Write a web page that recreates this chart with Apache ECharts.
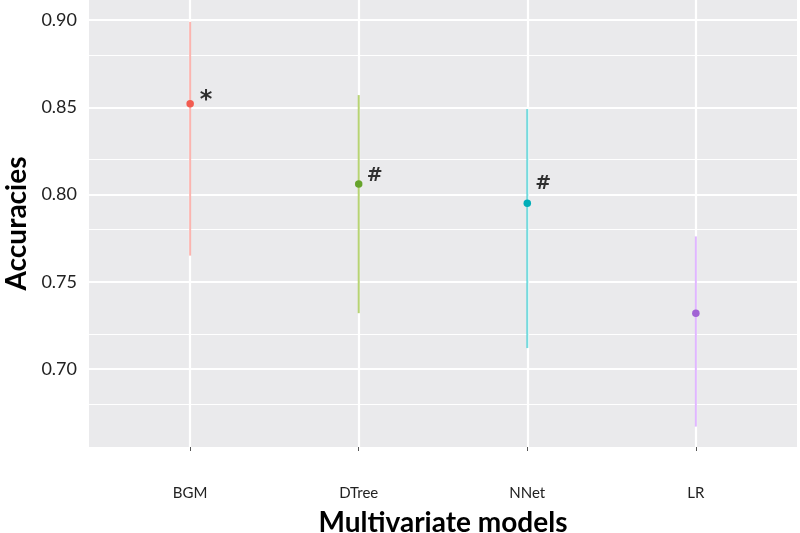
<!DOCTYPE html>
<html><head><meta charset="utf-8">
<script src="https://cdn.jsdelivr.net/npm/echarts@6/dist/echarts.min.js"></script>
<style>html,body{margin:0;padding:0;background:#fff}#c{width:800px;height:533px}</style>
</head><body><div id="c"></div>
<script>
const categories = ['BGM', 'DTree', 'NNet', 'LR'];
const meanAcc = [0.852, 0.806, 0.795, 0.732];
const lowerAcc = [0.765, 0.732, 0.712, 0.667];
const upperAcc = [0.899, 0.857, 0.849, 0.776];
const annotations = ['*', '#', '#', ''];
const annotY = [0.857, 0.8117, 0.8072, 0.732];
const yTicks = [0.70, 0.75, 0.80, 0.85, 0.90];
const yMinor = [0.675, 0.725, 0.775, 0.825, 0.875];
const xTicks = [0, 1, 2, 3];
const lineColors = ['#F8766D', '#7CAE00', '#00BFC4', '#C77CFF'];
const pointColors = ['#F25C51', '#66A32B', '#00AEB8', '#A162D4'];

const font = 'Lato, "Open Sans", sans-serif';
const chart = echarts.init(document.getElementById('c'), null, {renderer: 'canvas'});

const gridLineData = []
  .concat(yMinor.map(v => ({yAxis: v, lineStyle: {width: 1.1}})))
  .concat(yTicks.map(v => ({yAxis: v, lineStyle: {width: 2.2}})))
  .concat(xTicks.map(v => ({xAxis: v, lineStyle: {width: 2.2}})));

chart.setOption({
  animation: false,
  grid: {left: 89, right: 3, top: 0, bottom: 86, show: true, backgroundColor: '#EAEAEC', borderWidth: 0, containLabel: false, outerBoundsMode: 'none'},
  xAxis: {
    type: 'value', min: -0.6, max: 3.6,
    name: 'Multivariate models', nameLocation: 'middle', nameGap: 62,
    nameTextStyle: {fontFamily: font, fontSize: 28, fontWeight: 'bold', color: '#000'},
    axisLine: {show: false},
    axisTick: {show: true, customValues: xTicks, length: 4, lineStyle: {color: '#555'}},
    axisLabel: {customValues: xTicks, formatter: v => categories[Math.round(v)], fontFamily: font, fontSize: 15, color: '#222', margin: 39},
    splitLine: {show: false}
  },
  yAxis: {
    type: 'value', min: 0.6553, max: 0.9115,
    name: 'Accuracies', nameLocation: 'middle', nameGap: 58, nameRotate: 90,
    nameTextStyle: {fontFamily: font, fontSize: 28, fontWeight: 'bold', color: '#000'},
    axisLine: {show: false},
    axisTick: {show: true, customValues: yTicks, length: 3, lineStyle: {color: '#555'}},
    axisLabel: {customValues: yTicks, formatter: v => v.toFixed(2), fontFamily: font, fontSize: 18, color: '#222', margin: 12},
    splitLine: {show: false}
  },
  series: [
    {
      type: 'scatter', data: [], z: 1, silent: true,
      markLine: {z: 1, silent: true, symbol: ['none', 'none'], label: {show: false}, lineStyle: {color: '#FFFFFF', type: 'solid'}, data: gridLineData}
    },
    {
      type: 'custom', z: 3, silent: true,
      data: categories.map((c, i) => [i, lowerAcc[i], upperAcc[i]]),
      renderItem: function (params, api) {
        const i = params.dataIndex;
        const p1 = api.coord([api.value(0), api.value(1)]);
        const p2 = api.coord([api.value(0), api.value(2)]);
        return {type: 'line', shape: {x1: p1[0], y1: p1[1], x2: p2[0], y2: p2[1]},
          style: {stroke: lineColors[i], lineWidth: 2, opacity: 0.55}};
      }
    },
    {
      type: 'scatter', z: 4, symbolSize: 7.5, silent: true,
      data: categories.map((c, i) => ({value: [i, meanAcc[i]], itemStyle: {color: pointColors[i], opacity: 1}}))
    },
    {
      type: 'scatter', z: 5, symbolSize: 0, silent: true,
      data: categories.map((c, i) => ({value: [i, annotY[i]], label: {show: true, formatter: annotations[i],
        fontSize: annotations[i] === '*' ? 24 : 19, offset: annotations[i] === '*' ? [16, 6] : [16, 2]}})),
      label: {position: 'inside', fontFamily: '"DejaVu Sans", sans-serif', fontWeight: 'bold', color: '#000'}
    }
  ]
});
</script></body></html>
